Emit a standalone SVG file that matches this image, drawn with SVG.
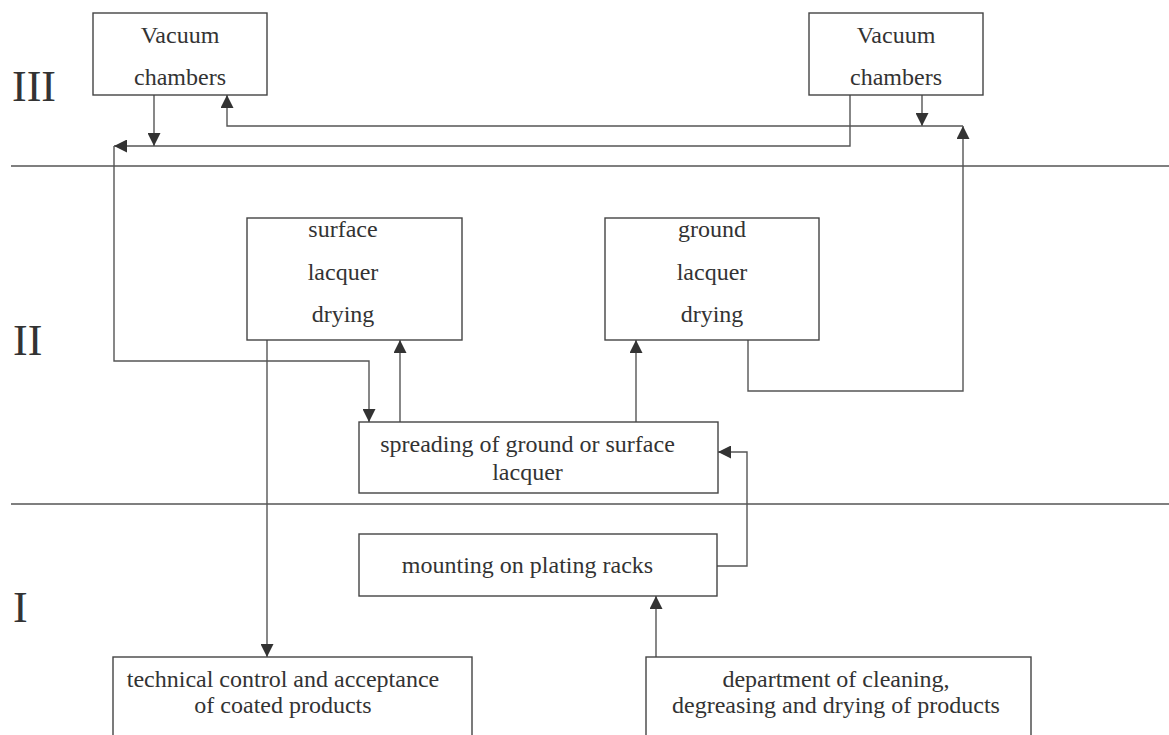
<svg xmlns="http://www.w3.org/2000/svg" width="1169" height="735" viewBox="0 0 1169 735">
<defs>
<style>
.box{fill:#fff;stroke:#444;stroke-width:1.4}
.t{font-size:24px;fill:#333;text-anchor:middle}
.lvl{font-size:44px;fill:#333}
.sep{stroke:#555;stroke-width:1.4}
.c{fill:none;stroke:#555;stroke-width:1.4}
.a{marker-end:url(#ah)}
</style>
<marker id="ah" markerUnits="userSpaceOnUse" markerWidth="13" markerHeight="13" refX="12" refY="6" orient="auto" viewBox="0 0 12 12">
<path d="M0,0 L12,6 L0,12 z" fill="#333"/>
</marker>
</defs>
<rect width="1169" height="735" fill="#fff"/>
<g font-family="'Liberation Serif', 'DejaVu Serif', 'Times New Roman', serif">
<g id="levels">
<text class="lvl" x="12" y="101">III</text>
<text class="lvl" x="13" y="355">II</text>
<text class="lvl" x="13" y="622">I</text>
<line class="sep" x1="11" y1="166" x2="1169" y2="166"/>
<line class="sep" x1="11" y1="504" x2="1169" y2="504"/>
</g>
<g id="connectors">
<path class="c a" d="M850,95 V146 H114"/>
<path class="c a" d="M114,146 V361 H369 V422"/>
<path class="c a" d="M154,95 V146"/>
<path class="c a" d="M922,95 V126"/>
<path class="c a" d="M748,340 V391 H963 V126"/>
<path class="c a" d="M963,126 H227 V95"/>
<path class="c a" d="M400,422 V340"/>
<path class="c a" d="M636,422 V340"/>
<path class="c a" d="M267,340 V657"/>
<path class="c a" d="M717,566 H747 V452 H718"/>
<path class="c a" d="M656,657 V596"/>
</g>
<g id="vac1">
<rect class="box" x="93" y="13" width="174" height="82"/>
<text class="t" x="180" y="43">Vacuum</text>
<text class="t" x="180" y="85">chambers</text>
</g>
<g id="vac2">
<rect class="box" x="809" y="13" width="174" height="82"/>
<text class="t" x="896" y="43">Vacuum</text>
<text class="t" x="896" y="85">chambers</text>
</g>
<g id="surface">
<rect class="box" x="247" y="218" width="215" height="122"/>
<text class="t" x="343" y="237">surface</text>
<text class="t" x="343" y="280">lacquer</text>
<text class="t" x="343" y="322">drying</text>
</g>
<g id="ground">
<rect class="box" x="605" y="218" width="214" height="122"/>
<text class="t" x="712" y="237">ground</text>
<text class="t" x="712" y="280">lacquer</text>
<text class="t" x="712" y="322">drying</text>
</g>
<g id="spreading">
<rect class="box" x="359" y="422" width="359" height="71"/>
<text class="t" x="527.5" y="452">spreading of ground or surface</text>
<text class="t" x="527.5" y="480">lacquer</text>
</g>
<g id="mounting">
<rect class="box" x="359" y="534" width="358" height="62"/>
<text class="t" x="527.5" y="573">mounting on plating racks</text>
</g>
<g id="technical">
<rect class="box" x="113" y="657" width="359" height="100"/>
<text class="t" x="283" y="687">technical control and acceptance</text>
<text class="t" x="283" y="713">of coated products</text>
</g>
<g id="department">
<rect class="box" x="646" y="657" width="385" height="100"/>
<text class="t" x="836" y="687">department of cleaning,</text>
<text class="t" x="836" y="713">degreasing and drying of products</text>
</g>
</g>
</svg>
